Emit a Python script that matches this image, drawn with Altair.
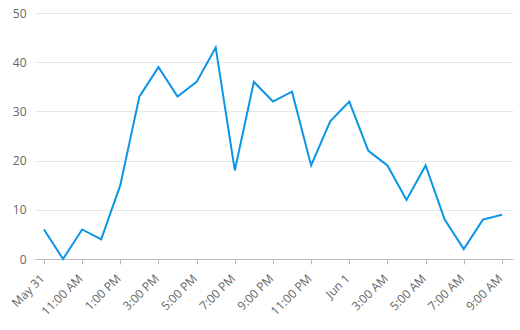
import altair as alt
import pandas as pd

hours = list(range(25))
values = [6, 0, 6, 4, 15, 33, 39, 33, 36, 43, 18, 36, 32, 34, 19, 28, 32, 22, 19, 12, 19, 8, 2, 8, 9]
tick_labels = ["May 31", "11:00 AM", "1:00 PM", "3:00 PM", "5:00 PM", "7:00 PM", "9:00 PM",
               "11:00 PM", "Jun 1", "3:00 AM", "5:00 AM", "7:00 AM", "9:00 AM"]
tick_positions = list(range(0, 25, 2))

df = pd.DataFrame({"h": hours, "v": values})

label_expr = "[" + ",".join("'" + s + "'" for s in tick_labels) + "][round(datum.value/2)]"

chart = alt.Chart(df).mark_line(color="#0b95e6", strokeWidth=2).encode(
    x=alt.X("h:Q",
            scale=alt.Scale(domain=[-0.47, 24.58], nice=False, zero=False),
            axis=alt.Axis(values=tick_positions, labelExpr=label_expr, labelAngle=-45,
                          labelAlign="right", labelBaseline="middle",
                          title=None, grid=False, domainColor="#bbbbbb", tickColor="#bbbbbb",
                          tickSize=5, labelColor="#666666", labelFontSize=12, labelFont="Open Sans",
                          labelPadding=12, labelOffset=-2, labelFlush=False, labelOverlap=False)),
    y=alt.Y("v:Q",
            scale=alt.Scale(domain=[0, 50], nice=False),
            axis=alt.Axis(values=[0, 10, 20, 30, 40, 50], title=None, domain=False, ticks=False,
                          gridColor="#e8e8e8", labelColor="#666666", labelFontSize=12,
                          labelFont="Open Sans", labelPadding=9)),
).properties(
    width=478, height=246,
    autosize=alt.AutoSizeParams(type="none"),
    padding={"left": 35, "top": 13, "right": 7, "bottom": 71},
).configure_view(stroke=None)

chart.save("out.html", embed_options={"renderer": "svg", "actions": False})
